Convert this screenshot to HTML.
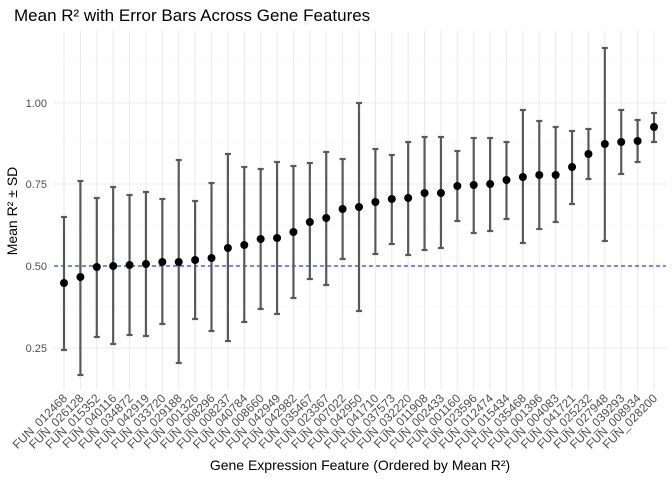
<!DOCTYPE html>
<html><head><meta charset="utf-8"><style>body{margin:0;background:#fff}svg{display:block;font-family:"Liberation Sans",sans-serif}</style></head>
<body>
<svg id="s" width="672" height="480" xmlns="http://www.w3.org/2000/svg">
<rect width="672" height="480" fill="#fff"/>
<text x="14" y="21" font-size="17" fill="#000">Mean R² with Error Bars Across Gene Features</text>
<text x="360" y="470" font-size="14" text-anchor="middle" fill="#000">Gene Expression Feature (Ordered by Mean R²)</text>
<text transform="translate(17,211) rotate(-90)" font-size="14" text-anchor="middle" fill="#000">Mean R² ± SD</text>
<g id="g"></g>
</svg>
<script>
const names=["012468","026128","015352","040116","034872","042919","033720","029188","001326","008296","008237","040784","008660","042949","042982","035467","023367","007022","042950","041710","037573","032220","011908","002433","001160","023596","012474","015434","035468","001396","004083","041721","025232","027948","039293","008934","028200"];
const d=[[283,217,350],[277,181,375],[267,198,337],[266,187,344],[265,195,335],[264,192,336],[262,199,324],[262,160,363],[260,201,319],[258,183,331],[248,154,341],[245,167,322],[239,169,309],[238,162,314],[232,166,298],[222,163,279],[218,152,285],[209,159,259],[207,103,311],[202,149,254],[199,155,244],[198,142,255],[193,137,250],[193,137,248],[186,151,221],[185,138,233],[184,138,231],[180,142,219],[177,110,243],[175,121,229],[175,127,222],[167,131,204],[154,129,179],[144,48,241],[142,110,174],[141,120,162],[127,113,142]];
let h="";const L=54,R=666,T=31,B=390;
[62,143,225,307].forEach(y=>h+=`<line x1="${L}" x2="${R}" y1="${y}" y2="${y}" stroke="#f3f3f3" stroke-width="0.6"/>`);
[[103,"1.00"],[184,"0.75"],[266,"0.50"],[348,"0.25"]].forEach(([y,t])=>{h+=`<line x1="${L}" x2="${R}" y1="${y}" y2="${y}" stroke="#ebebeb" stroke-width="1.1"/><text x="47" y="${y+4}" font-size="11" fill="#4d4d4d" text-anchor="end">${t}</text>`;});
const xs=i=>64+i*(590/36);
d.forEach((v,i)=>{const x=xs(i);h+=`<line x1="${x}" x2="${x}" y1="${T}" y2="${B}" stroke="#ebebeb" stroke-width="1.1"/>`;});
h+=`<line x1="${L}" x2="${R}" y1="266" y2="266" stroke="#0000ff" stroke-width="1.1" stroke-dasharray="4,3"/>`;
d.forEach((v,i)=>{const x=xs(i);h+=`<g stroke="#595959" stroke-width="2.2"><line x1="${x}" x2="${x}" y1="${v[1]}" y2="${v[2]}"/><line x1="${x-3}" x2="${x+3}" y1="${v[1]}" y2="${v[1]}"/><line x1="${x-3}" x2="${x+3}" y1="${v[2]}" y2="${v[2]}"/></g><circle cx="${x}" cy="${v[0]}" r="4" fill="#000"/>`;
h+=`<text transform="translate(${x+4},399) rotate(-45)" font-size="12" fill="#4d4d4d" text-anchor="end">FUN_${names[i]}</text>`;});
document.getElementById("g").innerHTML=h;
</script>
</body></html>
